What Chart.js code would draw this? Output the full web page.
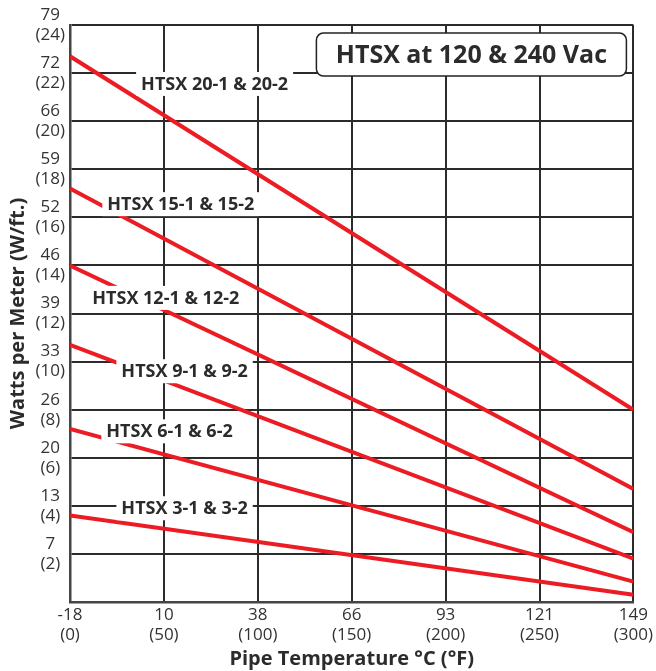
<!DOCTYPE html>
<html lang="en">
<head>
    <meta charset="UTF-8">
    <title>HTSX Power Output</title>
    <script src="https://cdn.jsdelivr.net/npm/chart.js@4.4.0/dist/chart.umd.min.js"></script>
    <style>
        html, body { margin: 0; padding: 0; background: #fff; }
        .chart-container { position: relative; width: 656px; height: 671px; }
    </style>
</head>
<body>
    <div class="chart-container">
        <canvas id="htsxChart"></canvas>
    </div>
    <script>
        // x axis runs in °F, the °C value is printed above it
        const tempF = [0, 300];

        // W/ft at 0 °F and 300 °F
        const htsx20 = [22.7, 8.0];
        const htsx15 = [17.2, 4.7];
        const htsx12 = [14.0, 2.9];
        const htsx9 = [10.7, 1.8];
        const htsx6 = [7.2, 0.85];
        const htsx3 = [3.6, 0.3];

        const seriesNames = ['HTSX 20-1 & 20-2', 'HTSX 15-1 & 15-2', 'HTSX 12-1 & 12-2',
                             'HTSX 9-1 & 9-2', 'HTSX 6-1 & 6-2', 'HTSX 3-1 & 3-2'];
        // where each series name sits (°F, W/ft)
        const labelX = [77, 59, 51, 61, 53, 61];
        const labelY = [21.55, 16.55, 12.65, 9.6, 7.1, 3.9];

        const xTickF = [0, 50, 100, 150, 200, 250, 300];
        const xTickC = ['-18', '10', '38', '66', '93', '121', '149'];
        const yTickWft = [0, 2, 4, 6, 8, 10, 12, 14, 16, 18, 20, 22, 24];
        const yTickWm = ['', '7', '13', '20', '26', '33', '39', '46', '52', '59', '66', '72', '79'];

        const chartTitle = 'HTSX at 120 & 240 Vac';

        const FONT = "'Open Sans', sans-serif";
        const RED = '#ec1c24';
        const INK = '#2b2b2b';

        const allSeries = [htsx20, htsx15, htsx12, htsx9, htsx6, htsx3];

        // series names + boxed title, drawn over the lines
        const overlayPlugin = {
            id: 'overlay',
            afterDatasetsDraw(chart) {
                const ctx = chart.ctx;
                const xs = chart.scales.x, ys = chart.scales.y;
                const area = chart.chartArea;
                ctx.save();
                ctx.font = 'bold 18px ' + FONT;
                ctx.textAlign = 'center';
                ctx.textBaseline = 'middle';
                seriesNames.forEach((name, i) => {
                    const px = xs.getPixelForValue(labelX[i]);
                    const py = ys.getPixelForValue(labelY[i]);
                    const w = ctx.measureText(name).width + 10;
                    ctx.fillStyle = '#fff';
                    ctx.fillRect(px - w / 2, py - 12, w, 24);
                    ctx.fillStyle = INK;
                    ctx.fillText(name, px, py + 1);
                });

                // title box top right
                const bw = 310, bh = 43;
                const bx = area.right - 7 - bw, by = area.top + 8;
                ctx.beginPath();
                ctx.roundRect(bx, by, bw, bh, 7);
                ctx.fillStyle = '#fff';
                ctx.fill();
                ctx.lineWidth = 1.5;
                ctx.strokeStyle = '#222';
                ctx.stroke();
                ctx.font = 'bold 25px ' + FONT;
                ctx.fillStyle = INK;
                ctx.fillText(chartTitle, bx + bw / 2, by + bh / 2 + 1);
                ctx.restore();
            }
        };

        const ctx = document.getElementById('htsxChart').getContext('2d');
        new Chart(ctx, {
            type: 'line',
            data: {
                datasets: allSeries.map((s, i) => ({
                    label: seriesNames[i],
                    data: tempF.map((t, j) => ({ x: t, y: s[j] })),
                    borderColor: RED,
                    borderWidth: 4,
                    pointRadius: 0,
                    tension: 0
                }))
            },
            options: {
                responsive: true,
                maintainAspectRatio: false,
                animation: false,
                layout: { padding: { top: 25, right: 20, left: 0, bottom: 0 } },
                plugins: {
                    legend: { display: false },
                    tooltip: { enabled: false }
                },
                scales: {
                    x: {
                        type: 'linear',
                        min: 0,
                        max: 300,
                        afterBuildTicks: scale => { scale.ticks = xTickF.map(v => ({ value: v })); },
                        afterFit: scale => { scale.height = 69; },
                        grid: { color: INK, lineWidth: 2, drawTicks: false },
                        border: { color: '#444', width: 2.5 },
                        ticks: {
                            padding: 3,
                            color: '#333',
                            font: { family: FONT, size: 17, lineHeight: 1.18 },
                            maxRotation: 0,
                            callback: v => {
                                const i = xTickF.indexOf(v);
                                return i < 0 ? '' : [xTickC[i], '(' + v + ')'];
                            }
                        },
                        title: {
                            display: true,
                            text: 'Pipe Temperature °C (°F)',
                            color: INK,
                            font: { family: FONT, size: 20, weight: 'bold' },
                            padding: { top: 0, bottom: 0 }
                        }
                    },
                    y: {
                        min: 0,
                        max: 24,
                        afterBuildTicks: scale => { scale.ticks = yTickWft.map(v => ({ value: v })); },
                        afterFit: scale => { scale.width = 70; },
                        grid: { color: INK, lineWidth: 2, drawTicks: false },
                        border: { color: '#444', width: 2.5 },
                        ticks: {
                            padding: 5,
                            crossAlign: 'center',
                            color: '#333',
                            font: { family: FONT, size: 17, lineHeight: 1.18 },
                            callback: v => {
                                const i = yTickWft.indexOf(v);
                                if (i <= 0) return '';
                                return [yTickWm[i], '(' + v + ')'];
                            }
                        },
                        title: {
                            display: true,
                            text: 'Watts per Meter (W/ft.)',
                            color: INK,
                            font: { family: FONT, size: 20, weight: 'bold' },
                            padding: { top: 6, bottom: 0 }
                        }
                    }
                }
            },
            plugins: [overlayPlugin]
        });
    </script>
</body>
</html>
